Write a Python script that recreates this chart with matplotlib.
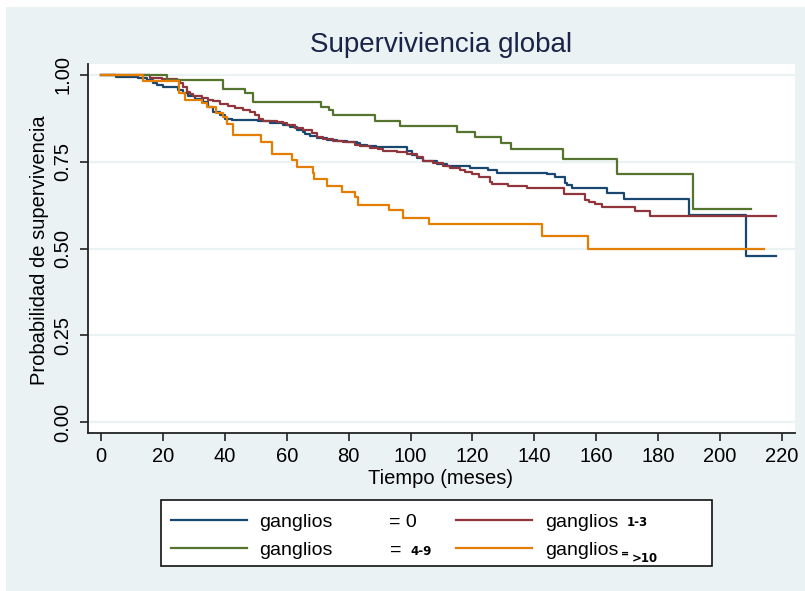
import matplotlib
matplotlib.use("Agg")
import matplotlib.pyplot as plt
from matplotlib.patches import Rectangle
from matplotlib.lines import Line2D

plt.rcParams['font.family'] = ['Liberation Sans', 'DejaVu Sans']

## data: step times (months) and survival after each step
t_cero = [0, 5.0, 12.0, 14.8, 16.9, 18.0, 20.1, 25.0, 26.6, 28.2, 30.4, 33.1, 34.7, 36.3, 38.4,
          40.1, 42.2, 50.8, 54.6, 58.9, 61.1, 63.2, 65.4, 65.9, 67.5, 69.7, 72.9, 76.2, 79.4,
          82.6, 83.7, 85.8, 89.0, 98.8, 100.4, 102.0, 104.1, 108.5, 111.7, 119.2, 125.1, 127.9,
          144.0, 146.7, 149.9, 150.5, 152.1, 163.4, 168.8, 189.8, 208.3, 218.0]
s_cero = [1.0, 0.994, 0.990, 0.985, 0.976, 0.971, 0.966, 0.956, 0.947, 0.940, 0.932, 0.922, 0.908,
          0.893, 0.884, 0.874, 0.869, 0.866, 0.862, 0.856, 0.850, 0.842, 0.837, 0.830, 0.823,
          0.818, 0.814, 0.811, 0.808, 0.804, 0.799, 0.794, 0.792, 0.782, 0.770, 0.761, 0.753,
          0.743, 0.737, 0.732, 0.726, 0.718, 0.714, 0.706, 0.690, 0.682, 0.673, 0.661, 0.643,
          0.596, 0.479, 0.479]

t_13 = [0, 15.8, 19.6, 24.5, 25.5, 26.6, 27.7, 28.8, 29.8, 32.5, 34.7, 36.3, 38.4, 41.1, 43.3,
        46.0, 48.1, 49.8, 51.0, 52.4, 57.0, 58.9, 60.0, 62.7, 65.4, 68.1, 69.7, 71.8, 75.1, 78.3,
        82.1, 83.7, 86.9, 89.6, 91.2, 95.5, 98.8, 102.0, 104.1, 107.4, 110.6, 112.8, 116.0,
        117.6, 119.8, 122.0, 125.7, 126.2, 131.6, 137.5, 149.6, 156.4, 157.8, 159.6, 162.0,
        172.5, 177.4, 218.0]
s_13 = [1.0, 0.992, 0.988, 0.985, 0.976, 0.966, 0.952, 0.944, 0.939, 0.934, 0.929, 0.924, 0.915,
        0.910, 0.905, 0.900, 0.893, 0.884, 0.874, 0.867, 0.864, 0.862, 0.855, 0.848, 0.842,
        0.832, 0.821, 0.816, 0.811, 0.806, 0.799, 0.794, 0.790, 0.787, 0.782, 0.777, 0.772,
        0.763, 0.753, 0.745, 0.738, 0.732, 0.726, 0.720, 0.714, 0.705, 0.693, 0.685, 0.680,
        0.673, 0.658, 0.641, 0.635, 0.627, 0.619, 0.608, 0.595, 0.595]

t_49 = [0, 21.2, 39.5, 46.5, 49.2, 71.2, 73.8, 75.1, 88.5, 96.6, 114.9, 120.8, 129.2, 132.5,
        149.4, 166.6, 191.4, 210.0]
s_49 = [1.0, 0.985, 0.959, 0.947, 0.922, 0.908, 0.898, 0.884, 0.867, 0.853, 0.835, 0.821, 0.803,
        0.787, 0.758, 0.716, 0.614, 0.614]

t_10 = [0, 13.5, 25.2, 27.1, 32.5, 34.1, 37.2, 39.5, 40.6, 42.5, 51.6, 55.1, 61.8, 63.4, 68.4,
        68.8, 72.9, 78.0, 82.1, 83.0, 93.0, 97.7, 106.1, 142.6, 157.2, 214.2]
s_10 = [1.0, 0.983, 0.948, 0.929, 0.920, 0.908, 0.890, 0.878, 0.860, 0.828, 0.806, 0.772, 0.755,
        0.735, 0.719, 0.700, 0.680, 0.664, 0.647, 0.626, 0.610, 0.589, 0.572, 0.537, 0.500, 0.500]

xticks = list(range(0, 221, 20))
yticks = [0, 0.25, 0.5, 0.75, 1.0]

azul = '#1a476f'
granate = '#90353b'
verde = '#55752f'
naranja = '#e37e00'
fondo = '#eaf2f3'

W, H = 805, 591
def fx(x):
    return x / W
def fy(y):
    return 1 - y / H

fig = plt.figure(figsize=(8.05, 5.91), dpi=100)
fig.patch.set_facecolor('white')
fig.patches.append(Rectangle((fx(6), 0), 1, fy(7), transform=fig.transFigure,
                             facecolor=fondo, edgecolor='none', zorder=-10))

ax = fig.add_axes([fx(88), fy(433), fx(795) - fx(88), fy(64) - fy(433)])
ax.set_facecolor('white')

for yv in yticks:
    ax.axhline(yv, color=fondo, lw=1.6, zorder=0)

ax.step(t_cero, s_cero, where='post', color=azul, lw=1.6)
ax.step(t_13, s_13, where='post', color=granate, lw=1.6)
ax.step(t_49, s_49, where='post', color=verde, lw=1.6)
ax.step(t_10, s_10, where='post', color=naranja, lw=1.6)

ax.set_xlim(-4.2, 224.2)
ax.set_ylim(-0.0317, 1.0317)
ax.set_xticks(xticks)
ax.set_yticks(yticks)
ax.set_yticklabels(['%.2f' % v for v in yticks], rotation=90, va='center')
ax.tick_params(axis='both', labelsize=14.5, length=6, width=1.2, color='#222222')
ax.tick_params(axis='x', pad=4)
ax.tick_params(axis='y', pad=5)
for s in ['top', 'right']:
    ax.spines[s].set_visible(False)
for s in ['left', 'bottom']:
    ax.spines[s].set_linewidth(1.3)
    ax.spines[s].set_color('#222222')

fig.text(fx(441), fy(45), 'Superviviencia global', ha='center', va='center',
         fontsize=20, color='#1a2448')
fig.text(fx(441), fy(478), 'Tiempo (meses)', ha='center', va='center', fontsize=14.5)
fig.text(fx(40), fy(250), 'Probabilidad de supervivencia', ha='center', va='center',
         rotation=90, fontsize=14.5)

## legend drawn by hand
fig.patches.append(Rectangle((fx(161), fy(566)), fx(712) - fx(161), fy(500) - fy(566),
                             transform=fig.transFigure, facecolor='white',
                             edgecolor='#111111', lw=1.2))
filas = [(azul, 171, 247, 519.5, 259, 527),
         (verde, 171, 247, 547.5, 259, 555),
         (granate, 456, 532, 519.5, 545, 527),
         (naranja, 456, 532, 547.5, 545, 555)]
for col, x0, x1, yl, xt, yb in filas:
    fig.add_artist(Line2D([fx(x0), fx(x1)], [fy(yl), fy(yl)], color=col, lw=1.6,
                          transform=fig.transFigure))
    fig.text(fx(xt), fy(yb), 'ganglios', fontsize=14, va='baseline')

chico = dict(fontsize=8.5, fontweight='bold', va='baseline', family='DejaVu Sans')
fig.text(fx(389), fy(527), '= 0', fontsize=14, va='baseline')
fig.text(fx(390), fy(555), '=', fontsize=14, va='baseline')
fig.text(fx(410), fy(555), '4-9', **chico)
fig.text(fx(627), fy(526), '1-3', **chico)
fig.text(fx(621), fy(557), '=', fontsize=7, fontweight='bold', va='baseline',
         family='DejaVu Sans')
fig.text(fx(632), fy(562), '>10', **chico)

fig.savefig('out.png', dpi=100, facecolor=fig.get_facecolor())
